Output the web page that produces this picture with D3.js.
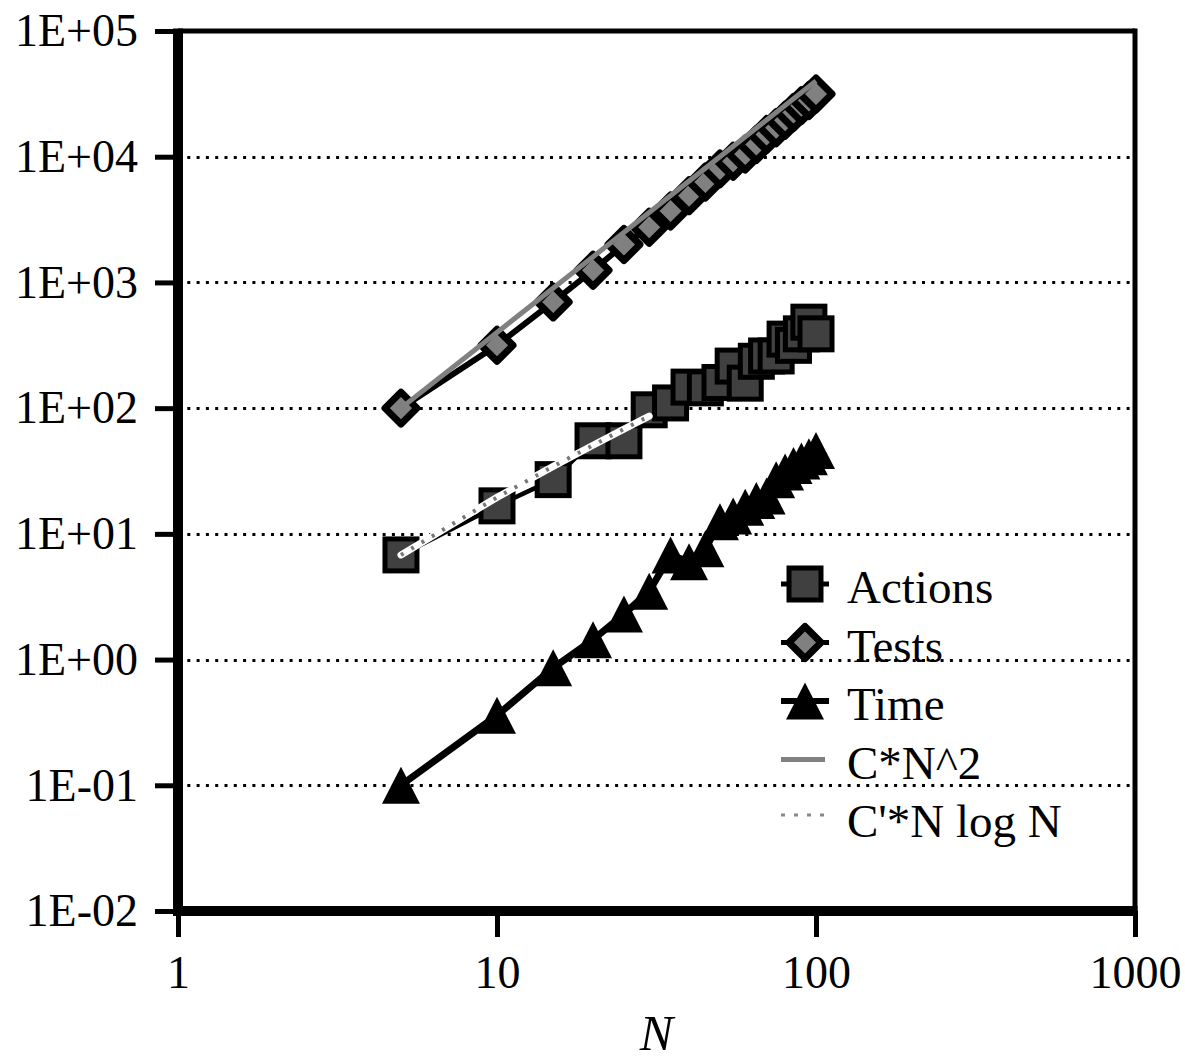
<!DOCTYPE html>
<html>
<head>
<meta charset="utf-8">
<script src="https://cdn.jsdelivr.net/npm/d3@7"></script>
<style>
  html, body { margin: 0; padding: 0; background: #fff; }
  svg { display: block; }
  text { font-family: "Liberation Serif", "Times New Roman", serif; fill: #000; }
</style>
</head>
<body>
<svg id="grafico" width="1185" height="1063"></svg>
<script>
// valori
var valoriN = [5, 10, 15, 20, 25, 30, 35, 40, 45, 50, 55, 60, 65, 70, 75, 80, 85, 90, 95, 100];
var azioni = [6.8, 16.7, 27, 55, 55, 97, 110, 147, 145, 160, 216, 158, 236, 260, 260, 354, 316, 390, 483, 390];
var prove = [100, 316, 700, 1250, 2000, 2750, 3700, 4900, 6300, 8000, 9200, 10500, 12500, 15000, 17000, 19500, 22500, 25500, 28000, 31500];
var tempo = [0.1, 0.36, 0.86, 1.44, 2.3, 3.5, 6.8, 6.0, 7.6, 12.5, 13.9, 16.3, 18.4, 20, 27, 31, 35, 38, 41, 46];

// curve di confronto
var quadN = [5, 100];
var quadVal = [100, 40000];
var nlogN = [5, 10, 15, 20, 25, 30];
var nlogVal = [6.8, 19.5, 34.4, 50.7, 68.2, 86.4];

var xTicks = [1, 10, 100, 1000];
var yTicks = [1e-2, 1e-1, 1e0, 1e1, 1e2, 1e3, 1e4, 1e5];
var yTickLabels = ['1E-02', '1E-01', '1E+00', '1E+01', '1E+02', '1E+03', '1E+04', '1E+05'];
var legenda = ['Actions', 'Tests', 'Time', 'C*N^2', "C'*N log N"];

var svg = d3.select('#grafico');

var sx = 178, dx = 1135, alto = 31, basso = 911;

var x = d3.scaleLog().domain([1, 1000]).range([sx, dx]);
var y = d3.scaleLog().domain([1e-2, 1e5]).range([basso, alto]);

//griglia tratteggiata
svg.append('g').selectAll('line')
    .data(yTicks)
    .enter().append('line')
    .attr('x1', sx).attr('x2', dx)
    .attr('y1', function(d) { return Math.round(y(d)) + 0.5; })
    .attr('y2', function(d) { return Math.round(y(d)) + 0.5; })
    .style('stroke', '#000')
    .style('stroke-width', 3)
    .style('stroke-dasharray', '3,6.3');

//assi
var assey = svg.append('g')
    .attr('transform', 'translate(' + sx + ',0)')
    .call(d3.axisLeft(y).tickValues(yTicks)
        .tickFormat(function(d, i) { return yTickLabels[i]; })
        .tickSize(23).tickPadding(17).tickSizeOuter(0));

var assex = svg.append('g')
    .attr('transform', 'translate(0,' + basso + ')')
    .call(d3.axisBottom(x).tickValues(xTicks)
        .tickFormat(function(d) { return d; })
        .tickSize(26).tickPadding(18).tickSizeOuter(0));

[assey, assex].forEach(function(a) {
    a.select('.domain').remove();
    a.selectAll('line').style('stroke', '#000').style('stroke-width', 5);
    a.selectAll('text').style('font-size', '46px')
        .style('font-family', '"Liberation Serif", serif');
});

//cornice
svg.append('line').attr('x1', sx).attr('x2', dx).attr('y1', alto).attr('y2', alto)
    .style('stroke', '#000').style('stroke-width', 5);
svg.append('line').attr('x1', dx).attr('x2', dx).attr('y1', alto - 2.5).attr('y2', basso)
    .style('stroke', '#000').style('stroke-width', 5);
svg.append('line').attr('x1', sx).attr('x2', sx).attr('y1', alto - 2.5).attr('y2', basso + 5)
    .style('stroke', '#000').style('stroke-width', 10);
svg.append('line').attr('x1', sx - 5).attr('x2', dx + 2.5).attr('y1', basso).attr('y2', basso)
    .style('stroke', '#000').style('stroke-width', 10);

svg.append('text')
    .attr('x', (sx + dx) / 2).attr('y', 1050)
    .style('text-anchor', 'middle')
    .style('font-size', '50px')
    .style('font-style', 'italic')
    .text('N');

//forme dei marcatori
function quadrato(g, cx, cy) {
    g.append('rect')
        .attr('x', cx - 16).attr('y', cy - 16)
        .attr('width', 32).attr('height', 32)
        .style('fill', '#404040').style('stroke', '#000').style('stroke-width', 5);
}
function rombo(g, cx, cy) {
    var r = 16;
    g.append('path')
        .attr('d', 'M' + cx + ',' + (cy - r) + 'L' + (cx + r) + ',' + cy + 'L' + cx + ',' + (cy + r) + 'L' + (cx - r) + ',' + cy + 'Z')
        .style('fill', '#808080').style('stroke', '#000').style('stroke-width', 7)
        .style('stroke-linejoin', 'round');
}
function triangolo(g, cx, cy) {
    g.append('path')
        .attr('d', 'M' + cx + ',' + (cy - 18.5) + 'L' + (cx + 19) + ',' + (cy + 18.5) + 'L' + (cx - 19) + ',' + (cy + 18.5) + 'Z')
        .style('fill', '#000');
}

var linea = d3.line()
    .x(function(d) { return x(d[0]); })
    .y(function(d) { return y(d[1]); });

function disegnaSerie(valori, spessore, marcatore) {
    var dati = d3.zip(valoriN, valori);
    var g = svg.append('g');
    g.append('path')
        .datum(dati)
        .attr('d', linea)
        .style('fill', 'none').style('stroke', '#000')
        .style('stroke-width', spessore).style('stroke-linejoin', 'round');
    dati.forEach(function(d) { marcatore(g, x(d[0]), y(d[1])); });
}

disegnaSerie(azioni, 4.5, quadrato);
disegnaSerie(prove, 6, rombo);
disegnaSerie(tempo, 7, triangolo);

//curve teoriche sopra i dati
svg.append('path')
    .datum(d3.zip(quadN, quadVal))
    .attr('d', linea)
    .style('fill', 'none').style('stroke', '#808080').style('stroke-width', 5);

var nlogDati = d3.zip(nlogN, nlogVal);
svg.append('path')
    .datum(nlogDati)
    .attr('d', linea)
    .style('fill', 'none').style('stroke', '#fff').style('stroke-width', 7)
    .style('stroke-linecap', 'round');
svg.append('path')
    .datum(nlogDati)
    .attr('d', linea)
    .style('fill', 'none').style('stroke', '#777').style('stroke-width', 4)
    .style('stroke-dasharray', '3,9');

//legenda
var legX = 805, legY0 = 584, passo = 58.5;
var lg = svg.append('g');
legenda.forEach(function(nome, i) {
    var cy = legY0 + i * passo;
    if (i < 3) {
        lg.append('line').attr('x1', 781).attr('x2', 829).attr('y1', cy).attr('y2', cy)
            .style('stroke', '#000').style('stroke-width', i == 2 ? 6 : 5);
        [quadrato, rombo, triangolo][i](lg, legX, cy);
    } else if (i == 3) {
        lg.append('line').attr('x1', 781).attr('x2', 825).attr('y1', cy).attr('y2', cy)
            .style('stroke', '#808080').style('stroke-width', 5);
    } else {
        lg.append('line').attr('x1', 781).attr('x2', 825).attr('y1', cy - 3).attr('y2', cy - 3)
            .style('stroke', '#888').style('stroke-width', 3)
            .style('stroke-dasharray', '4,9');
    }
    lg.append('text')
        .attr('x', 847).attr('y', cy + 19)
        .style('font-size', '47px')
        .text(nome);
});
</script>
</body>
</html>
